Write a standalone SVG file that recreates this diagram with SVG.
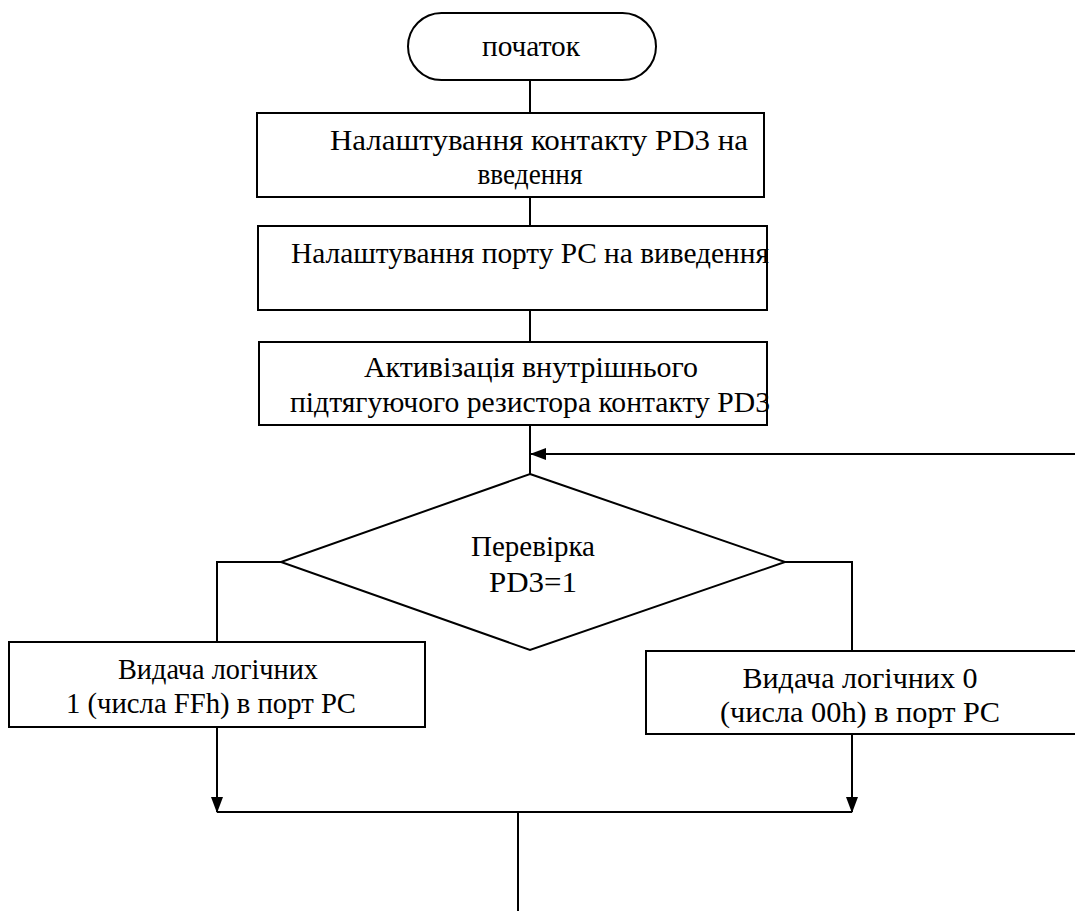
<svg xmlns="http://www.w3.org/2000/svg" width="1075" height="911" viewBox="0 0 1075 911">
<style>
.s{fill:#fff;stroke:#000;stroke-width:2}
.t{font-family:"Liberation Serif","Times New Roman",serif;font-size:30px;fill:#000;text-anchor:middle}
.c{fill:none;stroke:#000;stroke-width:2}
</style>
<defs>
<marker id="ah" markerWidth="16" markerHeight="12" refX="15" refY="6" orient="auto" markerUnits="userSpaceOnUse">
<path d="M0,0 L16,6 L0,12 Z" fill="#000"/>
</marker>
</defs>
<rect width="1075" height="911" fill="#fff"/>
<g id="connectors">
<path class="c" d="M530,80 V113"/>
<path class="c" d="M530,197 V226"/>
<path class="c" d="M530,310 V342"/>
<path class="c" d="M530,425 V474"/>
<path class="c" d="M1075,454 H531" marker-end="url(#ah)"/>
<path class="c" d="M281,562 H217 V642"/>
<path class="c" d="M785,562 H852 V651"/>
<path class="c" d="M217,727 V812" marker-end="url(#ah)"/>
<path class="c" d="M852,734 V812" marker-end="url(#ah)"/>
<path class="c" d="M217,812 H852"/>
<path class="c" d="M518,812 V911"/>
</g>
<g id="start">
<rect class="s" x="408" y="13" width="248" height="67" rx="33.5"/>
<text class="t" x="531" y="56" font-size="26" textLength="98" lengthAdjust="spacingAndGlyphs">початок</text>
</g>
<g id="box1">
<rect class="s" x="257" y="113" width="507" height="84"/>
<text class="t" x="539" y="150" textLength="418" lengthAdjust="spacingAndGlyphs">Налаштування контакту PD3 на</text>
<text class="t" x="530" y="184" textLength="105" lengthAdjust="spacingAndGlyphs">введення</text>
</g>
<g id="box2">
<rect class="s" x="258" y="226" width="509" height="84"/>
<text class="t" x="530" y="263" textLength="478" lengthAdjust="spacingAndGlyphs">Налаштування порту PC на виведення</text>
</g>
<g id="box3">
<rect class="s" x="259" y="342" width="508" height="83"/>
<text class="t" x="531" y="377" textLength="334" lengthAdjust="spacingAndGlyphs">Активізація внутрішнього</text>
<text class="t" x="530" y="412" textLength="480" lengthAdjust="spacingAndGlyphs">підтягуючого резистора контакту PD3</text>
</g>
<g id="decision">
<polygon class="s" points="530,474 785,562 530,650 281,562"/>
<text class="t" x="533" y="556" textLength="124" lengthAdjust="spacingAndGlyphs">Перевірка</text>
<text class="t" x="533" y="592" textLength="88" lengthAdjust="spacingAndGlyphs">PD3=1</text>
</g>
<g id="left">
<rect class="s" x="9" y="642" width="416" height="85"/>
<text class="t" x="218" y="679" textLength="200" lengthAdjust="spacingAndGlyphs">Видача логічних</text>
<text class="t" x="211" y="713" textLength="290" lengthAdjust="spacingAndGlyphs">1 (числа FFh) в порт PC</text>
</g>
<g id="right">
<rect class="s" x="646" y="651" width="440" height="83"/>
<text class="t" x="860" y="688" textLength="235" lengthAdjust="spacingAndGlyphs">Видача логічних 0</text>
<text class="t" x="860" y="722" textLength="280" lengthAdjust="spacingAndGlyphs">(числа 00h) в порт PC</text>
</g>
</svg>
